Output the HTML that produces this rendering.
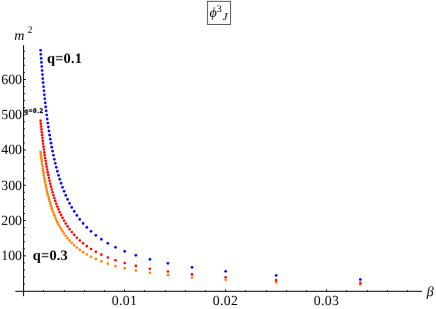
<!DOCTYPE html>
<html><head><meta charset="utf-8"><style>
html,body{margin:0;padding:0;background:#fff;}
svg{display:block;font-family:"Liberation Serif",serif;text-rendering:geometricPrecision;}
</style></head><body>
<svg width="436" height="309" viewBox="0 0 436 309">
<rect width="436" height="309" fill="#fff"/>
<g stroke="#000" stroke-width="1.0" fill="none">
<line x1="23.6" y1="45.2" x2="23.6" y2="296.2"/>
<line x1="15.4" y1="291.3" x2="422" y2="291.3"/>
</g>
<g stroke="#000" stroke-width="0.9" fill="none">
<line x1="23.6" y1="284.05" x2="24.90" y2="284.05"/>
<line x1="23.6" y1="276.99" x2="24.90" y2="276.99"/>
<line x1="23.6" y1="269.94" x2="24.90" y2="269.94"/>
<line x1="23.6" y1="262.88" x2="24.90" y2="262.88"/>
<line x1="23.6" y1="255.83" x2="25.90" y2="255.83"/>
<line x1="23.6" y1="248.78" x2="24.90" y2="248.78"/>
<line x1="23.6" y1="241.72" x2="24.90" y2="241.72"/>
<line x1="23.6" y1="234.67" x2="24.90" y2="234.67"/>
<line x1="23.6" y1="227.61" x2="24.90" y2="227.61"/>
<line x1="23.6" y1="220.56" x2="25.90" y2="220.56"/>
<line x1="23.6" y1="213.51" x2="24.90" y2="213.51"/>
<line x1="23.6" y1="206.45" x2="24.90" y2="206.45"/>
<line x1="23.6" y1="199.40" x2="24.90" y2="199.40"/>
<line x1="23.6" y1="192.34" x2="24.90" y2="192.34"/>
<line x1="23.6" y1="185.29" x2="25.90" y2="185.29"/>
<line x1="23.6" y1="178.24" x2="24.90" y2="178.24"/>
<line x1="23.6" y1="171.18" x2="24.90" y2="171.18"/>
<line x1="23.6" y1="164.13" x2="24.90" y2="164.13"/>
<line x1="23.6" y1="157.07" x2="24.90" y2="157.07"/>
<line x1="23.6" y1="150.02" x2="25.90" y2="150.02"/>
<line x1="23.6" y1="142.97" x2="24.90" y2="142.97"/>
<line x1="23.6" y1="135.91" x2="24.90" y2="135.91"/>
<line x1="23.6" y1="128.86" x2="24.90" y2="128.86"/>
<line x1="23.6" y1="121.80" x2="24.90" y2="121.80"/>
<line x1="23.6" y1="114.75" x2="25.90" y2="114.75"/>
<line x1="23.6" y1="107.70" x2="24.90" y2="107.70"/>
<line x1="23.6" y1="100.64" x2="24.90" y2="100.64"/>
<line x1="23.6" y1="93.59" x2="24.90" y2="93.59"/>
<line x1="23.6" y1="86.53" x2="24.90" y2="86.53"/>
<line x1="23.6" y1="79.48" x2="25.90" y2="79.48"/>
<line x1="23.6" y1="72.43" x2="24.90" y2="72.43"/>
<line x1="23.6" y1="65.37" x2="24.90" y2="65.37"/>
<line x1="23.6" y1="58.32" x2="24.90" y2="58.32"/>
<line x1="23.6" y1="51.26" x2="24.90" y2="51.26"/>
<line x1="43.50" y1="291.3" x2="43.50" y2="290.15"/>
<line x1="64.50" y1="291.3" x2="64.50" y2="290.15"/>
<line x1="84.50" y1="291.3" x2="84.50" y2="290.15"/>
<line x1="104.50" y1="291.3" x2="104.50" y2="290.15"/>
<line x1="124.50" y1="291.3" x2="124.50" y2="289.40"/>
<line x1="144.50" y1="291.3" x2="144.50" y2="290.15"/>
<line x1="165.50" y1="291.3" x2="165.50" y2="290.15"/>
<line x1="185.50" y1="291.3" x2="185.50" y2="290.15"/>
<line x1="205.50" y1="291.3" x2="205.50" y2="290.15"/>
<line x1="225.50" y1="291.3" x2="225.50" y2="289.40"/>
<line x1="245.50" y1="291.3" x2="245.50" y2="290.15"/>
<line x1="266.50" y1="291.3" x2="266.50" y2="290.15"/>
<line x1="286.50" y1="291.3" x2="286.50" y2="290.15"/>
<line x1="306.50" y1="291.3" x2="306.50" y2="290.15"/>
<line x1="326.50" y1="291.3" x2="326.50" y2="289.40"/>
<line x1="346.50" y1="291.3" x2="346.50" y2="290.15"/>
<line x1="367.50" y1="291.3" x2="367.50" y2="290.15"/>
<line x1="387.50" y1="291.3" x2="387.50" y2="290.15"/>
<line x1="407.50" y1="291.3" x2="407.50" y2="290.15"/>
</g>
<defs><filter id="idf" x="0" y="0" width="436" height="309" filterUnits="userSpaceOnUse" color-interpolation-filters="sRGB"><feOffset dx="0" dy="0"/></filter></defs>
<g id="txt" filter="url(#idf)" transform="rotate(0.03 218 155)">
<g font-size="13.9" fill="#000"><text x="22.05" y="260.28" text-anchor="end">100</text><text x="22.05" y="225.01" text-anchor="end">200</text><text x="22.05" y="189.74" text-anchor="end">300</text><text x="22.05" y="154.47" text-anchor="end">400</text><text x="22.05" y="119.20" text-anchor="end">500</text><text x="22.05" y="83.93" text-anchor="end">600</text><text x="124.50" y="304.7" text-anchor="middle" letter-spacing="0.35">0.01</text><text x="225.50" y="304.7" text-anchor="middle" letter-spacing="0.35">0.02</text><text x="326.50" y="304.7" text-anchor="middle" letter-spacing="0.35">0.03</text></g>
<circle cx="360.37" cy="284.48" r="1.32" fill="#ff8000"/>
<circle cx="276.20" cy="282.15" r="1.32" fill="#ff8000"/>
<circle cx="225.70" cy="279.83" r="1.32" fill="#ff8000"/>
<circle cx="192.03" cy="277.50" r="1.32" fill="#ff8000"/>
<circle cx="167.99" cy="275.18" r="1.32" fill="#ff8000"/>
<circle cx="149.95" cy="272.86" r="1.32" fill="#ff8000"/>
<circle cx="135.92" cy="270.57" r="1.32" fill="#ff8000"/>
<circle cx="124.70" cy="268.27" r="1.32" fill="#ff8000"/>
<circle cx="115.52" cy="265.98" r="1.32" fill="#ff8000"/>
<circle cx="107.87" cy="263.69" r="1.32" fill="#ff8000"/>
<circle cx="101.39" cy="261.39" r="1.32" fill="#ff8000"/>
<circle cx="95.84" cy="259.09" r="1.32" fill="#ff8000"/>
<circle cx="91.03" cy="256.80" r="1.32" fill="#ff8000"/>
<circle cx="86.83" cy="254.50" r="1.32" fill="#ff8000"/>
<circle cx="83.11" cy="252.19" r="1.32" fill="#ff8000"/>
<circle cx="79.81" cy="249.89" r="1.32" fill="#ff8000"/>
<circle cx="76.86" cy="247.59" r="1.32" fill="#ff8000"/>
<circle cx="74.20" cy="245.28" r="1.32" fill="#ff8000"/>
<circle cx="71.80" cy="242.98" r="1.32" fill="#ff8000"/>
<circle cx="69.61" cy="240.67" r="1.32" fill="#ff8000"/>
<circle cx="67.61" cy="238.36" r="1.32" fill="#ff8000"/>
<circle cx="65.78" cy="236.05" r="1.32" fill="#ff8000"/>
<circle cx="64.10" cy="233.74" r="1.32" fill="#ff8000"/>
<circle cx="62.55" cy="231.43" r="1.32" fill="#ff8000"/>
<circle cx="61.11" cy="229.11" r="1.32" fill="#ff8000"/>
<circle cx="59.77" cy="226.80" r="1.32" fill="#ff8000"/>
<circle cx="58.53" cy="224.48" r="1.32" fill="#ff8000"/>
<circle cx="57.37" cy="222.16" r="1.32" fill="#ff8000"/>
<circle cx="56.28" cy="219.84" r="1.32" fill="#ff8000"/>
<circle cx="55.26" cy="217.52" r="1.32" fill="#ff8000"/>
<circle cx="54.31" cy="215.20" r="1.32" fill="#ff8000"/>
<circle cx="53.41" cy="212.87" r="1.32" fill="#ff8000"/>
<circle cx="52.56" cy="210.55" r="1.32" fill="#ff8000"/>
<circle cx="51.76" cy="208.22" r="1.32" fill="#ff8000"/>
<circle cx="51.00" cy="205.90" r="1.32" fill="#ff8000"/>
<circle cx="50.28" cy="203.57" r="1.32" fill="#ff8000"/>
<circle cx="49.60" cy="201.24" r="1.32" fill="#ff8000"/>
<circle cx="48.95" cy="198.90" r="1.32" fill="#ff8000"/>
<circle cx="48.33" cy="196.57" r="1.32" fill="#ff8000"/>
<circle cx="47.75" cy="194.24" r="1.32" fill="#ff8000"/>
<circle cx="47.19" cy="191.90" r="1.32" fill="#ff8000"/>
<circle cx="46.65" cy="189.56" r="1.32" fill="#ff8000"/>
<circle cx="46.14" cy="187.23" r="1.32" fill="#ff8000"/>
<circle cx="45.66" cy="184.89" r="1.32" fill="#ff8000"/>
<circle cx="45.19" cy="182.55" r="1.32" fill="#ff8000"/>
<circle cx="44.74" cy="180.20" r="1.32" fill="#ff8000"/>
<circle cx="44.31" cy="177.86" r="1.32" fill="#ff8000"/>
<circle cx="43.90" cy="175.51" r="1.32" fill="#ff8000"/>
<circle cx="43.50" cy="173.17" r="1.32" fill="#ff8000"/>
<circle cx="43.12" cy="170.82" r="1.32" fill="#ff8000"/>
<circle cx="42.76" cy="168.47" r="1.32" fill="#ff8000"/>
<circle cx="42.40" cy="166.12" r="1.32" fill="#ff8000"/>
<circle cx="42.06" cy="163.77" r="1.32" fill="#ff8000"/>
<circle cx="41.74" cy="161.42" r="1.32" fill="#ff8000"/>
<circle cx="41.42" cy="159.06" r="1.32" fill="#ff8000"/>
<circle cx="41.11" cy="156.71" r="1.32" fill="#ff8000"/>
<circle cx="40.82" cy="154.35" r="1.32" fill="#ff8000"/>
<circle cx="40.53" cy="151.99" r="1.32" fill="#ff8000"/>
<circle cx="360.37" cy="282.92" r="1.32" fill="#ff0000"/>
<circle cx="276.20" cy="280.07" r="1.32" fill="#ff0000"/>
<circle cx="225.70" cy="277.23" r="1.32" fill="#ff0000"/>
<circle cx="192.03" cy="274.38" r="1.32" fill="#ff0000"/>
<circle cx="167.99" cy="271.54" r="1.32" fill="#ff0000"/>
<circle cx="149.95" cy="268.70" r="1.32" fill="#ff0000"/>
<circle cx="135.92" cy="265.89" r="1.32" fill="#ff0000"/>
<circle cx="124.70" cy="263.07" r="1.32" fill="#ff0000"/>
<circle cx="115.52" cy="260.26" r="1.32" fill="#ff0000"/>
<circle cx="107.87" cy="257.45" r="1.32" fill="#ff0000"/>
<circle cx="101.39" cy="254.63" r="1.32" fill="#ff0000"/>
<circle cx="95.84" cy="251.82" r="1.32" fill="#ff0000"/>
<circle cx="91.03" cy="249.00" r="1.32" fill="#ff0000"/>
<circle cx="86.83" cy="246.18" r="1.32" fill="#ff0000"/>
<circle cx="83.11" cy="243.36" r="1.32" fill="#ff0000"/>
<circle cx="79.81" cy="240.53" r="1.32" fill="#ff0000"/>
<circle cx="76.86" cy="237.71" r="1.32" fill="#ff0000"/>
<circle cx="74.20" cy="234.89" r="1.32" fill="#ff0000"/>
<circle cx="71.80" cy="232.06" r="1.32" fill="#ff0000"/>
<circle cx="69.61" cy="229.23" r="1.32" fill="#ff0000"/>
<circle cx="67.61" cy="226.40" r="1.32" fill="#ff0000"/>
<circle cx="65.78" cy="223.57" r="1.32" fill="#ff0000"/>
<circle cx="64.10" cy="220.74" r="1.32" fill="#ff0000"/>
<circle cx="62.55" cy="217.91" r="1.32" fill="#ff0000"/>
<circle cx="61.11" cy="215.07" r="1.32" fill="#ff0000"/>
<circle cx="59.77" cy="212.24" r="1.32" fill="#ff0000"/>
<circle cx="58.53" cy="209.40" r="1.32" fill="#ff0000"/>
<circle cx="57.37" cy="206.56" r="1.32" fill="#ff0000"/>
<circle cx="56.28" cy="203.72" r="1.32" fill="#ff0000"/>
<circle cx="55.26" cy="200.88" r="1.32" fill="#ff0000"/>
<circle cx="54.31" cy="198.04" r="1.32" fill="#ff0000"/>
<circle cx="53.41" cy="195.20" r="1.32" fill="#ff0000"/>
<circle cx="52.56" cy="192.35" r="1.32" fill="#ff0000"/>
<circle cx="51.76" cy="189.51" r="1.32" fill="#ff0000"/>
<circle cx="51.00" cy="186.66" r="1.32" fill="#ff0000"/>
<circle cx="50.28" cy="183.81" r="1.32" fill="#ff0000"/>
<circle cx="49.60" cy="180.96" r="1.32" fill="#ff0000"/>
<circle cx="48.95" cy="178.11" r="1.32" fill="#ff0000"/>
<circle cx="48.33" cy="175.26" r="1.32" fill="#ff0000"/>
<circle cx="47.75" cy="172.40" r="1.32" fill="#ff0000"/>
<circle cx="47.19" cy="169.55" r="1.32" fill="#ff0000"/>
<circle cx="46.65" cy="166.69" r="1.32" fill="#ff0000"/>
<circle cx="46.14" cy="163.83" r="1.32" fill="#ff0000"/>
<circle cx="45.66" cy="160.97" r="1.32" fill="#ff0000"/>
<circle cx="45.19" cy="158.11" r="1.32" fill="#ff0000"/>
<circle cx="44.74" cy="155.25" r="1.32" fill="#ff0000"/>
<circle cx="44.31" cy="152.39" r="1.32" fill="#ff0000"/>
<circle cx="43.90" cy="149.52" r="1.32" fill="#ff0000"/>
<circle cx="43.50" cy="146.65" r="1.32" fill="#ff0000"/>
<circle cx="43.12" cy="143.79" r="1.32" fill="#ff0000"/>
<circle cx="42.76" cy="140.92" r="1.32" fill="#ff0000"/>
<circle cx="42.40" cy="138.05" r="1.32" fill="#ff0000"/>
<circle cx="42.06" cy="135.18" r="1.32" fill="#ff0000"/>
<circle cx="41.74" cy="132.30" r="1.32" fill="#ff0000"/>
<circle cx="41.42" cy="129.43" r="1.32" fill="#ff0000"/>
<circle cx="41.11" cy="126.55" r="1.32" fill="#ff0000"/>
<circle cx="40.82" cy="123.68" r="1.32" fill="#ff0000"/>
<circle cx="40.53" cy="120.80" r="1.32" fill="#ff0000"/>
<circle cx="360.37" cy="279.39" r="1.36" fill="#0000ff"/>
<circle cx="276.20" cy="275.37" r="1.36" fill="#0000ff"/>
<circle cx="225.70" cy="271.35" r="1.36" fill="#0000ff"/>
<circle cx="192.03" cy="267.34" r="1.36" fill="#0000ff"/>
<circle cx="167.99" cy="263.32" r="1.36" fill="#0000ff"/>
<circle cx="149.95" cy="259.30" r="1.36" fill="#0000ff"/>
<circle cx="135.92" cy="255.31" r="1.36" fill="#0000ff"/>
<circle cx="124.70" cy="251.33" r="1.36" fill="#0000ff"/>
<circle cx="115.52" cy="247.34" r="1.36" fill="#0000ff"/>
<circle cx="107.87" cy="243.35" r="1.36" fill="#0000ff"/>
<circle cx="101.39" cy="239.36" r="1.36" fill="#0000ff"/>
<circle cx="95.84" cy="235.37" r="1.36" fill="#0000ff"/>
<circle cx="91.03" cy="231.37" r="1.36" fill="#0000ff"/>
<circle cx="86.83" cy="227.38" r="1.36" fill="#0000ff"/>
<circle cx="83.11" cy="223.38" r="1.36" fill="#0000ff"/>
<circle cx="79.81" cy="219.39" r="1.36" fill="#0000ff"/>
<circle cx="76.86" cy="215.39" r="1.36" fill="#0000ff"/>
<circle cx="74.20" cy="211.39" r="1.36" fill="#0000ff"/>
<circle cx="71.80" cy="207.39" r="1.36" fill="#0000ff"/>
<circle cx="69.61" cy="203.39" r="1.36" fill="#0000ff"/>
<circle cx="67.61" cy="199.38" r="1.36" fill="#0000ff"/>
<circle cx="65.78" cy="195.38" r="1.36" fill="#0000ff"/>
<circle cx="64.10" cy="191.37" r="1.36" fill="#0000ff"/>
<circle cx="62.55" cy="187.36" r="1.36" fill="#0000ff"/>
<circle cx="61.11" cy="183.35" r="1.36" fill="#0000ff"/>
<circle cx="59.77" cy="179.34" r="1.36" fill="#0000ff"/>
<circle cx="58.53" cy="175.33" r="1.36" fill="#0000ff"/>
<circle cx="57.37" cy="171.32" r="1.36" fill="#0000ff"/>
<circle cx="56.28" cy="167.30" r="1.36" fill="#0000ff"/>
<circle cx="55.26" cy="163.29" r="1.36" fill="#0000ff"/>
<circle cx="54.31" cy="159.27" r="1.36" fill="#0000ff"/>
<circle cx="53.41" cy="155.25" r="1.36" fill="#0000ff"/>
<circle cx="52.56" cy="151.23" r="1.36" fill="#0000ff"/>
<circle cx="51.76" cy="147.21" r="1.36" fill="#0000ff"/>
<circle cx="51.00" cy="143.19" r="1.36" fill="#0000ff"/>
<circle cx="50.28" cy="139.17" r="1.36" fill="#0000ff"/>
<circle cx="49.60" cy="135.14" r="1.36" fill="#0000ff"/>
<circle cx="48.95" cy="131.12" r="1.36" fill="#0000ff"/>
<circle cx="48.33" cy="127.09" r="1.36" fill="#0000ff"/>
<circle cx="47.75" cy="123.06" r="1.36" fill="#0000ff"/>
<circle cx="47.19" cy="119.03" r="1.36" fill="#0000ff"/>
<circle cx="46.65" cy="115.00" r="1.36" fill="#0000ff"/>
<circle cx="46.14" cy="110.96" r="1.36" fill="#0000ff"/>
<circle cx="45.66" cy="106.93" r="1.36" fill="#0000ff"/>
<circle cx="45.19" cy="102.89" r="1.36" fill="#0000ff"/>
<circle cx="44.74" cy="98.86" r="1.36" fill="#0000ff"/>
<circle cx="44.31" cy="94.82" r="1.36" fill="#0000ff"/>
<circle cx="43.90" cy="90.78" r="1.36" fill="#0000ff"/>
<circle cx="43.50" cy="86.74" r="1.36" fill="#0000ff"/>
<circle cx="43.12" cy="82.70" r="1.36" fill="#0000ff"/>
<circle cx="42.76" cy="78.65" r="1.36" fill="#0000ff"/>
<circle cx="42.40" cy="74.61" r="1.36" fill="#0000ff"/>
<circle cx="42.06" cy="70.56" r="1.36" fill="#0000ff"/>
<circle cx="41.74" cy="66.51" r="1.36" fill="#0000ff"/>
<circle cx="41.42" cy="62.46" r="1.36" fill="#0000ff"/>
<circle cx="41.11" cy="58.41" r="1.36" fill="#0000ff"/>
<circle cx="40.82" cy="54.36" r="1.36" fill="#0000ff"/>
<circle cx="40.53" cy="50.31" r="1.36" fill="#0000ff"/>
<rect x="207.4" y="1.3" width="23.1" height="23.1" fill="none" stroke="#3c3c3c" stroke-width="0.85"/>
<text x="209.5" y="17" font-size="14" font-style="italic">ϕ</text>
<text x="216.6" y="11.5" font-size="10.4">3</text>
<text x="222.8" y="20.3" font-size="10.5" font-style="italic" stroke="#000" stroke-width="0.15">J</text>
<text x="14.2" y="39.8" font-size="14" font-style="italic">m</text>
<text x="27.4" y="32.9" font-size="10">2</text>
<text x="426.8" y="295.7" font-size="14" font-style="italic">β</text>
<text x="47" y="63.1" font-size="14.4" font-weight="bold" letter-spacing="0.2">q=0.1</text>
<text x="32.8" y="259.7" font-size="14.4" font-weight="bold" letter-spacing="0.2">q=0.3</text>
<text x="24.1" y="112.8" font-size="7" font-weight="bold" stroke="#000" stroke-width="0.3" letter-spacing="0.55">q=0.2</text>
</g>
</svg>
</body></html>
